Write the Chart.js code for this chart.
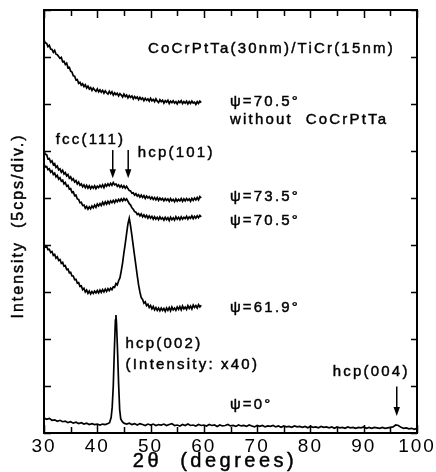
<!DOCTYPE html>
<html>
<head>
<meta charset="utf-8">
<script src="https://cdn.jsdelivr.net/npm/chart.js@4/dist/chart.umd.min.js"></script>
<style>
  html, body { margin: 0; padding: 0; background: #fff; }
  canvas { display: block; }
</style>
</head>
<body>
<canvas id="xrd" width="436" height="472"></canvas>
<script>
// 2θ sampling for the tilted (ψ ≠ 0) scans, degrees
const scanAngles = [
  30.00, 30.25, 30.50, 30.75, 31.00, 31.25, 31.50, 31.75, 32.00, 32.25,
  32.50, 32.75, 33.00, 33.25, 33.50, 33.75, 34.00, 34.25, 34.50, 34.75,
  35.00, 35.25, 35.50, 35.75, 36.00, 36.25, 36.50, 36.75, 37.00, 37.25,
  37.50, 37.75, 38.00, 38.25, 38.50, 38.75, 39.00, 39.25, 39.50, 39.75,
  40.00, 40.25, 40.50, 40.75, 41.00, 41.25, 41.50, 41.75, 42.00, 42.25,
  42.50, 42.75, 43.00, 43.25, 43.50, 43.75, 44.00, 44.25, 44.50, 44.75,
  45.00, 45.25, 45.50, 45.75, 46.00, 46.25, 46.50, 46.75, 47.00, 47.25,
  47.50, 47.75, 48.00, 48.25, 48.50, 48.75, 49.00, 49.25, 49.50, 49.75,
  50.00, 50.25, 50.50, 50.75, 51.00, 51.25, 51.50, 51.75, 52.00, 52.25,
  52.50, 52.75, 53.00, 53.25, 53.50, 53.75, 54.00, 54.25, 54.50, 54.75,
  55.00, 55.25, 55.50, 55.75, 56.00, 56.25, 56.50, 56.75, 57.00, 57.25,
  57.50, 57.75, 58.00, 58.25, 58.50, 58.75, 59.00, 59.25, 59.50
];

// Intensities in divisions (1 div = 5 cps); curves are stacked with offsets
const psi705Substrate = [
  8.36, 8.30, 8.29, 8.22, 8.25, 8.17, 8.16, 8.10, 8.14, 8.06,
  8.05, 8.01, 7.97, 7.99, 7.90, 7.91, 7.84, 7.87, 7.77, 7.78,
  7.70, 7.68, 7.60, 7.59, 7.51, 7.52, 7.44, 7.46, 7.40, 7.43,
  7.37, 7.41, 7.34, 7.38, 7.32, 7.35, 7.29, 7.34, 7.30, 7.27,
  7.32, 7.26, 7.30, 7.25, 7.29, 7.23, 7.28, 7.24, 7.21, 7.27,
  7.22, 7.26, 7.19, 7.24, 7.20, 7.23, 7.17, 7.22, 7.19, 7.15,
  7.21, 7.16, 7.19, 7.13, 7.18, 7.14, 7.17, 7.11, 7.16, 7.12,
  7.15, 7.09, 7.14, 7.10, 7.13, 7.07, 7.12, 7.08, 7.11, 7.06,
  7.12, 7.07, 7.10, 7.05, 7.11, 7.06, 7.03, 7.09, 7.05, 7.08,
  7.02, 7.07, 7.04, 7.08, 7.01, 7.06, 7.03, 7.07, 7.02, 7.05,
  7.00, 7.06, 7.03, 7.07, 7.01, 7.05, 7.02, 7.06, 7.00, 7.05,
  7.01, 7.06, 7.02, 7.04, 6.99, 7.05, 7.01, 7.06, 7.03
];

const psi735 = [
  6.00, 5.93, 5.92, 5.83, 5.84, 5.76, 5.79, 5.71, 5.73, 5.65,
  5.68, 5.60, 5.62, 5.55, 5.59, 5.51, 5.54, 5.47, 5.50, 5.42,
  5.45, 5.38, 5.41, 5.34, 5.37, 5.30, 5.34, 5.27, 5.30, 5.24,
  5.28, 5.22, 5.27, 5.21, 5.26, 5.20, 5.25, 5.21, 5.26, 5.20,
  5.25, 5.22, 5.27, 5.23, 5.28, 5.22, 5.29, 5.25, 5.30, 5.26,
  5.31, 5.27, 5.33, 5.28, 5.30, 5.25, 5.28, 5.23, 5.27, 5.22,
  5.26, 5.21, 5.25, 5.20, 5.16, 5.15, 5.10, 5.11, 5.06, 5.09,
  5.04, 5.07, 5.02, 5.06, 5.01, 5.05, 4.99, 5.04, 5.00, 5.03,
  4.98, 5.02, 4.97, 5.01, 4.96, 5.01, 4.95, 5.00, 4.96, 4.99,
  4.94, 4.99, 4.95, 4.98, 4.93, 4.99, 4.94, 4.97, 4.92, 4.98,
  4.93, 4.97, 4.94, 4.99, 4.93, 4.98, 4.94, 4.99, 4.95, 4.98,
  4.93, 4.99, 4.95, 5.00, 4.96, 5.01, 4.96, 5.03, 5.00
];

const psi705 = [
  5.72, 5.66, 5.67, 5.60, 5.62, 5.55, 5.58, 5.50, 5.53, 5.45,
  5.48, 5.40, 5.43, 5.36, 5.38, 5.30, 5.33, 5.25, 5.27, 5.19,
  5.20, 5.12, 5.13, 5.05, 5.06, 4.98, 4.97, 4.90, 4.91, 4.84,
  4.85, 4.78, 4.82, 4.76, 4.81, 4.77, 4.83, 4.79, 4.85, 4.80,
  4.87, 4.83, 4.88, 4.84, 4.91, 4.86, 4.92, 4.87, 4.93, 4.88,
  4.94, 4.90, 4.95, 4.90, 4.96, 4.92, 4.97, 4.93, 4.98, 4.94,
  4.99, 4.95, 4.98, 4.93, 4.88, 4.85, 4.79, 4.76, 4.71, 4.70,
  4.65, 4.67, 4.62, 4.66, 4.60, 4.64, 4.59, 4.63, 4.57, 4.62,
  4.57, 4.61, 4.55, 4.60, 4.55, 4.59, 4.54, 4.60, 4.55, 4.58,
  4.53, 4.59, 4.54, 4.58, 4.52, 4.59, 4.54, 4.58, 4.53, 4.60,
  4.55, 4.59, 4.54, 4.60, 4.55, 4.59, 4.56, 4.61, 4.55, 4.60,
  4.57, 4.62, 4.56, 4.61, 4.57, 4.62, 4.58, 4.63, 4.60
];

const psi619 = [
  4.02, 3.96, 3.97, 3.90, 3.91, 3.84, 3.86, 3.78, 3.80, 3.72,
  3.75, 3.67, 3.69, 3.61, 3.63, 3.55, 3.56, 3.48, 3.49, 3.41,
  3.42, 3.34, 3.34, 3.26, 3.27, 3.19, 3.20, 3.12, 3.13, 3.05,
  3.08, 3.00, 3.04, 2.97, 3.02, 2.96, 3.01, 2.97, 3.02, 2.98,
  3.03, 2.98, 3.04, 2.99, 3.05, 3.00, 3.06, 3.01, 3.07, 3.03,
  3.08, 3.05, 3.11, 3.10, 3.18, 3.15, 3.24, 3.30, 3.45, 3.62,
  3.84, 4.03, 4.24, 4.45, 4.57, 4.40, 4.20, 3.98, 3.77, 3.56,
  3.35, 3.15, 3.00, 2.88, 2.84, 2.76, 2.79, 2.71, 2.74, 2.67,
  2.71, 2.64, 2.69, 2.62, 2.67, 2.61, 2.66, 2.60, 2.66, 2.61,
  2.65, 2.59, 2.66, 2.61, 2.67, 2.60, 2.68, 2.62, 2.66, 2.61,
  2.68, 2.63, 2.69, 2.62, 2.70, 2.64, 2.68, 2.63, 2.71, 2.65,
  2.70, 2.64, 2.72, 2.67, 2.71, 2.66, 2.73, 2.68, 2.72
];

// Symmetric (ψ = 0°) scan, 30–100°, intensity scaled ×1/40
const psi0Angles = [
  30.0, 30.5, 31.0, 31.5, 32.0, 32.5, 33.0, 33.5, 34.0, 34.5,
  35.0, 35.5, 36.0, 36.5, 37.0, 37.5, 38.0, 38.5, 39.0, 39.5,
  40.0, 40.5, 41.0, 41.5, 42.0,
  42.3, 42.6, 42.8, 43.0, 43.2, 43.4, 43.5, 43.6, 43.8, 44.0,
  44.2, 44.4, 44.7,
  45.0, 45.5, 46.0, 46.5, 47.0, 47.5, 48.0, 48.5, 49.0, 49.5,
  50.0, 50.5, 51.0, 51.5, 52.0, 52.5, 53.0, 53.5, 54.0, 54.5,
  55.0, 55.5, 56.0, 56.5, 57.0, 57.5, 58.0, 58.5, 59.0, 59.5,
  60.0, 60.5, 61.0, 61.5, 62.0, 62.5, 63.0, 63.5, 64.0, 64.5,
  65.0, 65.5, 66.0, 66.5, 67.0, 67.5, 68.0, 68.5, 69.0, 69.5,
  70.0, 70.5, 71.0, 71.5, 72.0, 72.5, 73.0, 73.5, 74.0, 74.5,
  75.0, 75.5, 76.0, 76.5, 77.0, 77.5, 78.0, 78.5, 79.0, 79.5,
  80.0, 80.5, 81.0, 81.5, 82.0, 82.5, 83.0, 83.5, 84.0, 84.5,
  85.0, 85.5, 86.0, 86.5, 87.0, 87.5, 88.0, 88.5, 89.0, 89.5,
  90.0, 90.5, 91.0, 91.5, 92.0, 92.5, 93.0, 93.5, 94.0, 94.5,
  95.0, 95.5, 96.0, 96.5, 97.0, 97.5, 98.0, 98.5, 99.0, 99.5,
  100.0
];
const psi0 = [
  0.32, 0.29, 0.31, 0.27, 0.28, 0.25, 0.27, 0.24, 0.25, 0.22,
  0.24, 0.21, 0.23, 0.20, 0.22, 0.19, 0.21, 0.18, 0.20, 0.18,
  0.19, 0.17, 0.19, 0.18, 0.20,
  0.22, 0.33, 0.55, 1.00, 1.75, 2.40, 2.51, 2.35, 1.75, 1.05,
  0.50, 0.30, 0.24,
  0.21, 0.19, 0.21, 0.18, 0.20, 0.17, 0.20, 0.18, 0.16, 0.19,
  0.17, 0.19, 0.16, 0.18, 0.17, 0.19, 0.16, 0.18, 0.20, 0.16,
  0.17, 0.15, 0.18, 0.16, 0.19, 0.16, 0.17, 0.15, 0.18, 0.16,
  0.17, 0.15, 0.18, 0.16, 0.17, 0.14, 0.17, 0.15, 0.16, 0.18,
  0.15, 0.16, 0.14, 0.17, 0.15, 0.16, 0.14, 0.17, 0.15, 0.13,
  0.16, 0.14, 0.16, 0.13, 0.15, 0.14, 0.16, 0.13, 0.15, 0.12,
  0.15, 0.13, 0.14, 0.12, 0.15, 0.13, 0.14, 0.12, 0.14, 0.11,
  0.14, 0.12, 0.13, 0.11, 0.14, 0.12, 0.13, 0.11, 0.13, 0.10,
  0.13, 0.11, 0.12, 0.10, 0.13, 0.11, 0.12, 0.10, 0.12, 0.11,
  0.13, 0.10, 0.12, 0.10, 0.12, 0.11, 0.10, 0.12, 0.10, 0.11,
  0.12, 0.13, 0.17, 0.16, 0.12, 0.10, 0.11, 0.09, 0.10, 0.08,
  0.10
];

// Axis ranges and ticks
const xTickStep = 5;
const yDivisions = 9;

// Text labels, anchored in data coordinates (left edge, baseline)
const labels = [
  { text: 'CoCrPtTa(30nm)/TiCr(15nm)', x: 49.5, y: 8.09 },
  { text: 'ψ=70.5°', x: 64.9, y: 6.96 },
  { text: 'without  CoCrPtTa', x: 64.9, y: 6.57 },
  { text: 'fcc(111)', x: 32.2, y: 6.15 },
  { text: 'hcp(101)', x: 47.6, y: 5.87 },
  { text: 'ψ=73.5°', x: 64.9, y: 4.94 },
  { text: 'ψ=70.5°', x: 64.9, y: 4.43 },
  { text: 'ψ=61.9°', x: 64.9, y: 2.57 },
  { text: 'hcp(002)', x: 45.3, y: 1.81 },
  { text: '(Intensity: x40)', x: 45.3, y: 1.36 },
  { text: 'hcp(004)', x: 84.2, y: 1.21 },
  { text: 'ψ=0°', x: 64.9, y: 0.51 }
];

// Peak-marker arrows: 2θ position, tail and tip heights (divisions)
const arrows = [
  { x: 42.9, from: 6.02, to: 5.42 },
  { x: 45.8, from: 6.02, to: 5.42 },
  { x: 96.2, from: 0.99, to: 0.36 }
];

const FONT = "'Liberation Sans', Arial, Helvetica, sans-serif";

function toPoints(xs, ys) {
  return xs.map((x, i) => ({ x: x, y: ys[i] }));
}

const series = [
  toPoints(scanAngles, psi705Substrate),
  toPoints(scanAngles, psi735),
  toPoints(scanAngles, psi705),
  toPoints(scanAngles, psi619),
  toPoints(psi0Angles, psi0)
];

function boldText(ctx, text, x, y) {
  ctx.fillText(text, x, y);
  ctx.strokeText(text, x, y);
}

// Frame, inward tick marks, annotations and axis titles
const decorations = {
  id: 'decorations',
  beforeDraw(chart) {
    chart.ctx.letterSpacing = '2px';
  },
  afterDraw(chart) {
    const ctx = chart.ctx;
    const a = chart.chartArea;
    const xs = chart.scales.x;
    const ys = chart.scales.y;
    ctx.save();
    ctx.strokeStyle = '#000';
    ctx.fillStyle = '#000';

    // frame
    ctx.lineWidth = 2;
    ctx.strokeRect(a.left, a.top, a.right - a.left, a.bottom - a.top);

    // x ticks (top and bottom, pointing inward)
    ctx.lineWidth = 1.5;
    ctx.beginPath();
    xs.ticks.forEach(t => {
      const px = Math.round(xs.getPixelForValue(t.value)) + 0.5;
      const len = (t.value % 10 === 0) ? 8 : 6;
      ctx.moveTo(px, a.bottom); ctx.lineTo(px, a.bottom - len);
      ctx.moveTo(px, a.top); ctx.lineTo(px, a.top + len);
    });
    // y ticks (left and right, pointing inward)
    ys.ticks.forEach(t => {
      const py = Math.round(ys.getPixelForValue(t.value)) + 0.5;
      ctx.moveTo(a.left, py); ctx.lineTo(a.left + 7, py);
      ctx.moveTo(a.right, py); ctx.lineTo(a.right - 6, py);
    });
    ctx.stroke();

    // arrows
    ctx.lineWidth = 1.5;
    arrows.forEach(ar => {
      const px = xs.getPixelForValue(ar.x);
      const y0 = ys.getPixelForValue(ar.from);
      const y1 = ys.getPixelForValue(ar.to);
      const head = 9;
      ctx.beginPath();
      ctx.moveTo(px, y0);
      ctx.lineTo(px, y1 - head + 1);
      ctx.stroke();
      ctx.beginPath();
      ctx.moveTo(px - 3.2, y1 - head);
      ctx.lineTo(px + 3.2, y1 - head);
      ctx.lineTo(px, y1);
      ctx.closePath();
      ctx.fill();
    });

    // annotations
    ctx.lineWidth = 0.45;
    ctx.font = '15px ' + FONT;
    ctx.letterSpacing = '2.2px';
    ctx.textAlign = 'left';
    ctx.textBaseline = 'alphabetic';
    labels.forEach(l => {
      boldText(ctx, l.text, xs.getPixelForValue(l.x), ys.getPixelForValue(l.y));
    });

    // x title
    ctx.font = '20px ' + FONT;
    ctx.letterSpacing = '3.5px';
    ctx.textAlign = 'center';
    boldText(ctx, '2θ  (degrees)', 215, 467);

    // y title
    ctx.font = '16px ' + FONT;
    ctx.letterSpacing = '2px';
    ctx.translate(19, 226);
    ctx.rotate(-Math.PI / 2);
    ctx.textAlign = 'center';
    ctx.textBaseline = 'middle';
    boldText(ctx, 'Intensity  (5cps/div.)', 0, 0);
    ctx.restore();
  }
};

new Chart(document.getElementById('xrd'), {
  type: 'line',
  data: {
    datasets: series.map(pts => ({
      data: pts,
      borderColor: '#000',
      borderWidth: 1.7,
      pointRadius: 0,
      tension: 0,
      fill: false
    }))
  },
  options: {
    responsive: false,
    animation: false,
    devicePixelRatio: 1,
    parsing: false,
    layout: { padding: { top: 10, right: 19, left: 0, bottom: 0 } },
    plugins: { legend: { display: false }, tooltip: { enabled: false } },
    scales: {
      x: {
        type: 'linear',
        min: 30,
        max: 100,
        grid: { display: false, drawTicks: false },
        border: { display: false },
        ticks: {
          stepSize: xTickStep,
          autoSkip: false,
          maxRotation: 0,
          padding: 2,
          color: '#000',
          font: { family: FONT, size: 19 },
          callback: v => (v % 10 === 0 ? String(v) : '')
        },
        afterFit(s) { s.height = 39; }
      },
      y: {
        type: 'linear',
        min: 0,
        max: yDivisions,
        grid: { display: false, drawTicks: false },
        border: { display: false },
        ticks: { display: false, stepSize: 1 },
        afterFit(s) { s.width = 44; }
      }
    }
  },
  plugins: [decorations]
});
</script>
</body>
</html>
